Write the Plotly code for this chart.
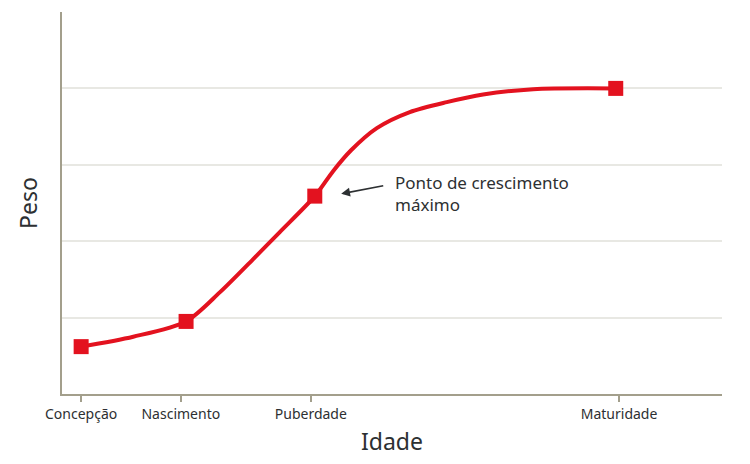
import plotly.graph_objects as go

# Stage positions on the age axis and their labels
stage_labels = ['Concepção', 'Nascimento', 'Puberdade', 'Maturidade']
stage_ticks = [2.9, 18.0, 37.7, 84.4]

# Marked points (age, weight)
marker_age = [2.9, 18.8, 38.3, 83.9]
marker_weight = [0.62, 0.95, 2.59, 4.0]

# Growth curve
curve_age = [2.9, 10.8, 18.8, 23.9, 28.9, 33.0, 38.3, 41.1, 43.8, 47.7, 52.7, 58.3, 63.8, 71.4, 83.9]
curve_weight = [0.62, 0.75, 0.95, 1.33, 1.76, 2.12, 2.59, 2.92, 3.19, 3.48, 3.69, 3.82, 3.92, 3.99, 4.0]

red = '#e3121f'
axis_col = '#a39f8c'
text_col = '#2d3032'

fig = go.Figure()

fig.add_trace(go.Scatter(
    x=curve_age, y=curve_weight,
    mode='lines',
    line=dict(color=red, width=4, shape='spline', smoothing=0.8),
    hoverinfo='skip',
))

fig.add_trace(go.Scatter(
    x=marker_age, y=marker_weight,
    mode='markers',
    marker=dict(symbol='square', size=15, color=red),
))

# arrow pointing at the point of maximum growth
fig.add_annotation(
    x=42.3, y=2.62, ax=48.9, ay=2.73,
    xref='x', yref='y', axref='x', ayref='y',
    text='', showarrow=True,
    arrowhead=2, arrowsize=1.1, arrowwidth=1.6, arrowcolor=text_col,
)
fig.add_annotation(
    x=50.2, y=2.63, xref='x', yref='y',
    text='Ponto de crescimento<br>máximo',
    showarrow=False, xanchor='left', align='left',
    font=dict(size=17, color=text_col),
)

# page body adds an 8px margin, so the figure is a bit smaller than the window
fig.update_layout(
    width=742, height=456,
    margin=dict(l=54, r=28, t=4, b=70),
    paper_bgcolor='white', plot_bgcolor='white',
    showlegend=False,
    font=dict(family='Noto Sans', color=text_col),
    xaxis=dict(
        range=[0, 100],
        tickvals=stage_ticks, ticktext=stage_labels,
        tickfont=dict(size=14, color=text_col),
        ticks='outside', ticklen=6, tickwidth=2, tickcolor=axis_col,
        showline=True, linecolor=axis_col, linewidth=2,
        showgrid=False, zeroline=False, automargin=False,
        title=dict(text='Idade', font=dict(size=23, color=text_col), standoff=12),
    ),
    yaxis=dict(
        range=[0, 5],
        tickvals=[1, 2, 3, 4, 5], showticklabels=False,
        showline=True, linecolor=axis_col, linewidth=2,
        showgrid=True, gridcolor='#e8e8e3', gridwidth=2,
        zeroline=False, automargin=False,
        title=dict(text='Peso', font=dict(size=23, color=text_col), standoff=16),
    ),
)

fig.write_html("out.html")
